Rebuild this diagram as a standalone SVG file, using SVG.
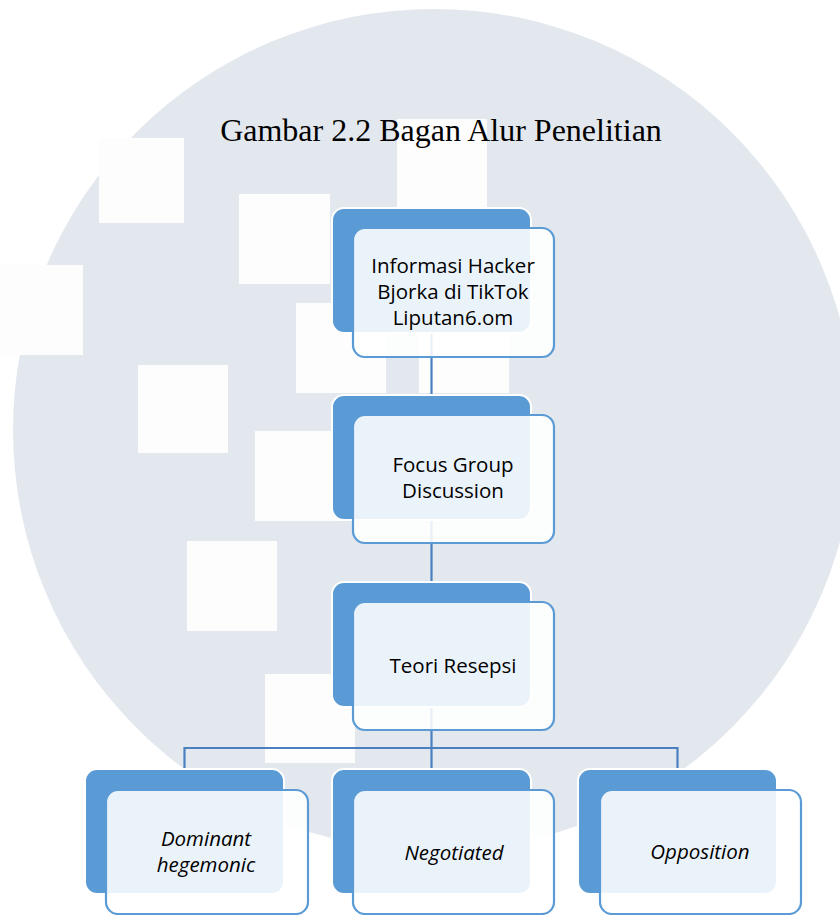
<svg xmlns="http://www.w3.org/2000/svg" width="840" height="915" viewBox="0 0 840 915">
<style>
.sq{fill:#fdfdfe}
.back{fill:#5b9bd5;stroke:#ffffff;stroke-width:2}
.front{fill:#ffffff;fill-opacity:0.88;stroke:#5b9bd5;stroke-width:2.2}
.lbl{font-family:"Open Sans","Noto Sans","Liberation Sans",sans-serif;font-size:20.5px;fill:#000000;text-anchor:middle}
.it{font-style:italic}
.conn{fill:none;stroke:#4a80c0;stroke-width:2.2}
</style>
<rect x="0" y="0" width="840" height="915" fill="#ffffff"/>
<g id="background">
<circle cx="434" cy="430" r="421" fill="#e3e8ef"/>
<rect class="sq" x="99" y="138" width="85" height="85"/>
<rect class="sq" x="239" y="194" width="91" height="90"/>
<rect class="sq" x="296" y="303" width="90" height="90"/>
<rect class="sq" x="419" y="303" width="90" height="90"/>
<rect class="sq" x="397" y="119" width="90" height="90"/>
<rect class="sq" x="-7" y="265" width="90" height="90"/>
<rect class="sq" x="138" y="365" width="90" height="88"/>
<rect class="sq" x="255" y="431" width="90" height="90"/>
<rect class="sq" x="187" y="541" width="90" height="90"/>
<rect class="sq" x="265" y="674" width="90" height="89"/>
</g>
<text x="441" y="141" font-family="'Liberation Serif','Times New Roman',serif" font-size="32" text-anchor="middle" fill="#000000">Gambar 2.2 Bagan Alur Penelitian</text>
<g id="connectors">
<line class="conn" x1="431.5" y1="333" x2="431.5" y2="395"/>
<line class="conn" x1="431.5" y1="520" x2="431.5" y2="582"/>
<line class="conn" x1="431.5" y1="707" x2="431.5" y2="769"/>
<path class="conn" d="M184.5,769 V748 H677.5 V769"/>
</g>
<g id="node-informasi">
<rect class="back" x="332" y="208" width="199" height="125" rx="12"/>
<rect class="front" x="353" y="228" width="201" height="129" rx="12"/>
<text class="lbl" x="453" y="273">Informasi Hacker</text>
<text class="lbl" x="453" y="299">Bjorka di TikTok</text>
<text class="lbl" x="453" y="325">Liputan6.om</text>
</g>
<g id="node-fgd">
<rect class="back" x="332" y="395" width="199" height="125" rx="12"/>
<rect class="front" x="353" y="415" width="201" height="128" rx="12"/>
<text class="lbl" x="453" y="472">Focus Group</text>
<text class="lbl" x="453" y="498">Discussion</text>
</g>
<g id="node-teori">
<rect class="back" x="332" y="582" width="199" height="125" rx="12"/>
<rect class="front" x="353" y="602" width="201" height="128" rx="12"/>
<text class="lbl" x="453" y="673">Teori Resepsi</text>
</g>
<g id="node-dominant">
<rect class="back" x="85" y="769" width="199" height="125" rx="12"/>
<rect class="front" x="106" y="790" width="202" height="124" rx="12"/>
<text class="lbl it" x="206" y="846">Dominant</text>
<text class="lbl it" x="206" y="872">hegemonic</text>
</g>
<g id="node-negotiated">
<rect class="back" x="332" y="769" width="199" height="125" rx="12"/>
<rect class="front" x="353" y="790" width="201" height="124" rx="12"/>
<text class="lbl it" x="454" y="860">Negotiated</text>
</g>
<g id="node-opposition">
<rect class="back" x="578" y="769" width="199" height="125" rx="12"/>
<rect class="front" x="600" y="790" width="201" height="124" rx="12"/>
<text class="lbl it" x="700" y="859">Opposition</text>
</g>
</svg>
